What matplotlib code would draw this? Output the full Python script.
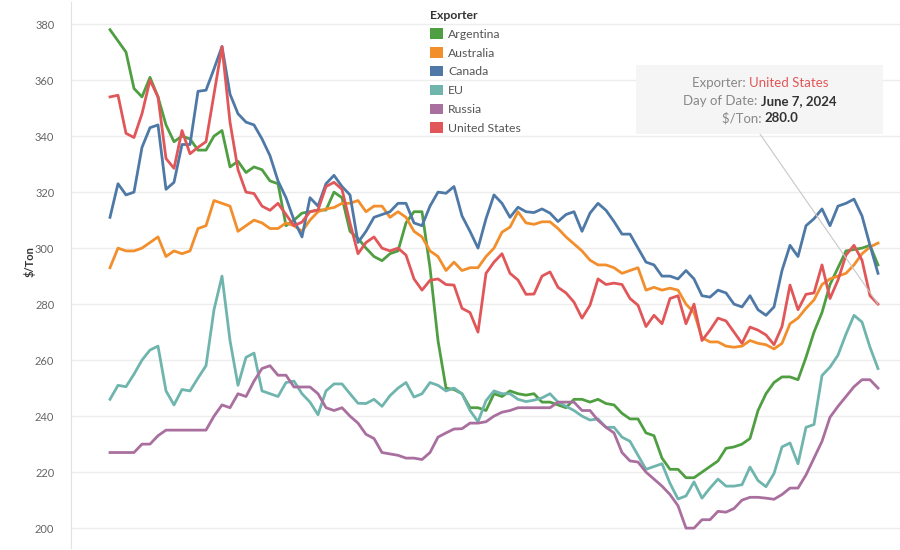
import numpy as np
import matplotlib as mpl
mpl.use('Agg')
import matplotlib.pyplot as plt
from matplotlib.patches import Patch, Rectangle
from matplotlib.offsetbox import TextArea, HPacker, AnnotationBbox

plt.rcParams['font.family'] = ['Lato', 'DejaVu Sans']

# weekly export prices, $/Ton
exporters = ['Argentina', 'Australia', 'Canada', 'EU', 'Russia', 'United States']
colors = ['#4f9f42', '#f28e2b', '#4e79a7', '#6fb5ae', '#a96f9e', '#e15759']

argentina = [378, 374, 370, 357, 354, 361, 354, 344, 338, 340,
             339, 335, 335, 340, 342, 329, 331, 327, 329, 328,
             324, 323, 308, 310, 312.5, 313, 313.6, 313.6, 320, 318,
             306, 303.5, 300, 297, 295.5, 298, 299, 309, 313, 313,
             293, 267, 250, 249.5, 248, 243, 243, 242, 248, 247,
             249, 248, 247.5, 248, 245, 245, 244, 243, 246, 246,
             245, 246, 244.5, 244, 241, 239, 239, 234, 233, 225,
             221, 221, 218, 218, 220, 222, 224, 228.5, 229, 230,
             232, 242, 248, 252, 254, 254, 253, 261, 270, 277,
             287, 293, 299, 299.5, 300, 301, 294]
australia = [293, 300, 299, 299, 300, 302, 304, 297, 299, 298,
             299, 307, 308, 317, 316, 315, 306, 308, 310, 309,
             307, 307, 309, 308, 306, 310, 313, 314, 314.5, 316,
             316, 317, 313, 315, 315, 311, 313, 311, 306, 304,
             299, 297, 292, 295, 292, 293, 293, 297, 300, 305.7,
             307.5, 313, 309, 308.5, 309.4, 309.4, 307, 304, 301.5, 299,
             295.7, 294, 294, 293, 291, 292, 293, 285, 286, 285,
             285.7, 285, 280, 277, 268, 266.5, 266.5, 265, 264.6, 265,
             267, 266, 265.5, 264, 266, 273, 275, 278.5, 281.5, 287,
             289, 290, 291, 294, 298, 300.4, 301.8]
canada = [311, 323, 319, 320, 336, 343, 344, 321, 323.5, 337,
          337, 356, 356.4, 364, 372, 355, 348, 345, 344, 339,
          333, 324, 318, 310, 304, 318, 315, 323, 326, 322,
          319, 302, 306, 311, 312, 313, 316, 316, 309, 308,
          315, 320, 319.6, 322, 311.5, 306, 300, 310.5, 319, 316,
          311, 314.6, 313, 312.7, 314, 312.5, 309.5, 312, 313, 306,
          312.5, 316, 313.5, 309.5, 305, 305, 300, 295, 294, 290,
          290, 289, 292, 289, 283, 282.5, 285, 284, 280, 279,
          283, 278, 276, 279, 292, 301, 297, 308, 310.5, 314,
          308, 315, 316, 317.5, 311.5, 301, 291]
eu = [246, 251, 250.5, 255, 260, 263.6, 265, 249, 244, 249.5,
      249, 253.6, 258, 278, 290, 267, 251, 261, 262.5, 249,
      248, 247, 252, 252.5, 248, 245, 240.5, 249, 251.5, 251.5,
      248, 244.6, 244.5, 246, 243.5, 247.3, 250, 252, 246.8, 248,
      252, 251, 249, 250, 248, 242, 238, 245.5, 249, 248,
      248, 246, 245.2, 245.7, 246.5, 248, 245, 243.5, 242, 240,
      238.6, 239, 236, 236, 232.5, 231, 226, 221, 222, 223,
      216, 210.4, 211.5, 216.5, 210.7, 214.3, 217.5, 215, 215, 215.5,
      221.8, 217, 214.8, 219.5, 229, 230.4, 223, 236, 237, 254.5,
      257.5, 261.8, 269.3, 276, 273.6, 264.6, 257]
russia = [227, 227, 227, 227, 230, 230, 233, 235, 235, 235,
          235, 235, 235, 240, 244, 243, 248, 247, 252.5, 257,
          258, 254.6, 254.6, 250.4, 250.4, 250.4, 248, 243, 242, 243,
          240, 237.5, 233.5, 232, 227, 226.5, 226, 225, 225, 224.5,
          227, 232.5, 234, 235.4, 235.5, 237.5, 237.5, 238, 240, 241.4,
          242, 243, 243, 243, 243, 243, 245, 245, 245, 242,
          242, 238.5, 236, 234, 227, 224, 223.6, 220, 217.5, 215,
          212, 208, 200, 200, 203, 203, 206, 205.7, 207, 210,
          211, 211, 210.7, 210.3, 212, 214.3, 214.3, 219, 225, 231,
          239.6, 243.5, 247, 250.5, 253, 253, 250]
united_states = [354, 354.6, 341, 339.5, 348, 360, 354, 332, 328.5, 342,
                 333.7, 336, 338, 355, 372, 345, 328, 320, 319.5, 315,
                 313.5, 316, 312, 308, 309.3, 313, 313.6, 322, 323.5, 321,
                 309, 298, 302, 304, 300, 299, 300, 297.5, 289, 285,
                 288.5, 289, 287, 286.8, 278.5, 277, 270, 291, 295, 298,
                 291, 288.6, 283.5, 283.6, 290, 291.5, 286, 284, 280.7, 275,
                 279.6, 289, 287, 287.5, 287, 282, 279.6, 272, 276, 273,
                 282, 283, 273, 280, 267, 270.7, 275, 274, 270, 266,
                 271.8, 270.7, 269, 265.5, 272, 286.8, 278, 283.5, 284, 294,
                 282, 288.6, 297.5, 301, 295.7, 283, 280.0]
series = [argentina, australia, canada, eu, russia, united_states]

W, H = 900, 550
fig = plt.figure(figsize=(W / 100, H / 100), dpi=100)
ax = fig.add_axes([71 / W, 2 / H, 829 / W, 546 / H])

x = np.arange(len(argentina))
for vals, col in zip(series, colors):
    ax.plot(x, vals, color=col, lw=2.0, solid_joinstyle='round')

ax.set_xlim(-4.875, 98.75)
ax.set_ylim(192.9, 387.9)
ax.set_yticks(range(200, 381, 20))
ax.set_xticks([])
ax.grid(axis='y', color='#ededed', lw=1)
ax.set_axisbelow(True)
for s in ['top', 'right', 'bottom']:
    ax.spines[s].set_visible(False)
ax.spines['left'].set_color('#e2e2e2')
ax.tick_params(axis='y', length=0, pad=12, labelsize=8, labelcolor='#666666')

fig.text(30 / W, 1 - 262 / H, '$/Ton', rotation=90, ha='center', va='center',
         fontsize=8, color='#333333', fontweight='bold')

# legend
handles = [Patch(facecolor=c, edgecolor='none') for c in colors]
leg = fig.legend(handles, exporters, loc='upper left',
                 bbox_to_anchor=(430 / W, 1 - 10 / H), frameon=False,
                 title='Exporter', alignment='left', fontsize=8.8,
                 title_fontproperties={'weight': 'bold', 'size': 8.8},
                 handlelength=1.07, handleheight=0.95, handletextpad=0.4,
                 labelspacing=0.6, borderpad=0, borderaxespad=0)
leg.get_title().set_color('#333333')
for t in leg.get_texts():
    t.set_color('#555555')

# tooltip
fig.add_artist(Rectangle((636 / W, 1 - 134 / H), 247 / W, 69 / H,
                         transform=fig.transFigure, facecolor='#f5f5f5',
                         edgecolor='none', zorder=5))
ax.annotate('', xy=(x[-1], united_states[-1]), xycoords='data',
            xytext=(760 / W, 1 - 134 / H), textcoords='figure fraction',
            arrowprops=dict(arrowstyle='-', color='#c8c8c8', lw=0.8,
                            shrinkA=0, shrinkB=0), zorder=6)

tip_rows = [
    ([('Exporter: ', '#888888', 'normal'), ('United States', '#e15759', 'normal')], 83),
    ([('Day of Date: ', '#888888', 'normal'), ('June 7, 2024', '#333333', 'bold')], 101),
    ([('$/Ton: ', '#888888', 'normal'), ('280.0', '#333333', 'bold')], 118),
]
for parts, yy in tip_rows:
    kids = [TextArea(s, textprops=dict(color=c, fontsize=9.5, fontweight=w))
            for s, c, w in parts]
    box = HPacker(children=kids, pad=0, sep=0, align='baseline')
    ab = AnnotationBbox(box, (760 / W, 1 - yy / H), xycoords='figure fraction',
                        frameon=False, box_alignment=(0.5, 0.5), zorder=7)
    fig.add_artist(ab)

fig.savefig('out.png', dpi=100)
